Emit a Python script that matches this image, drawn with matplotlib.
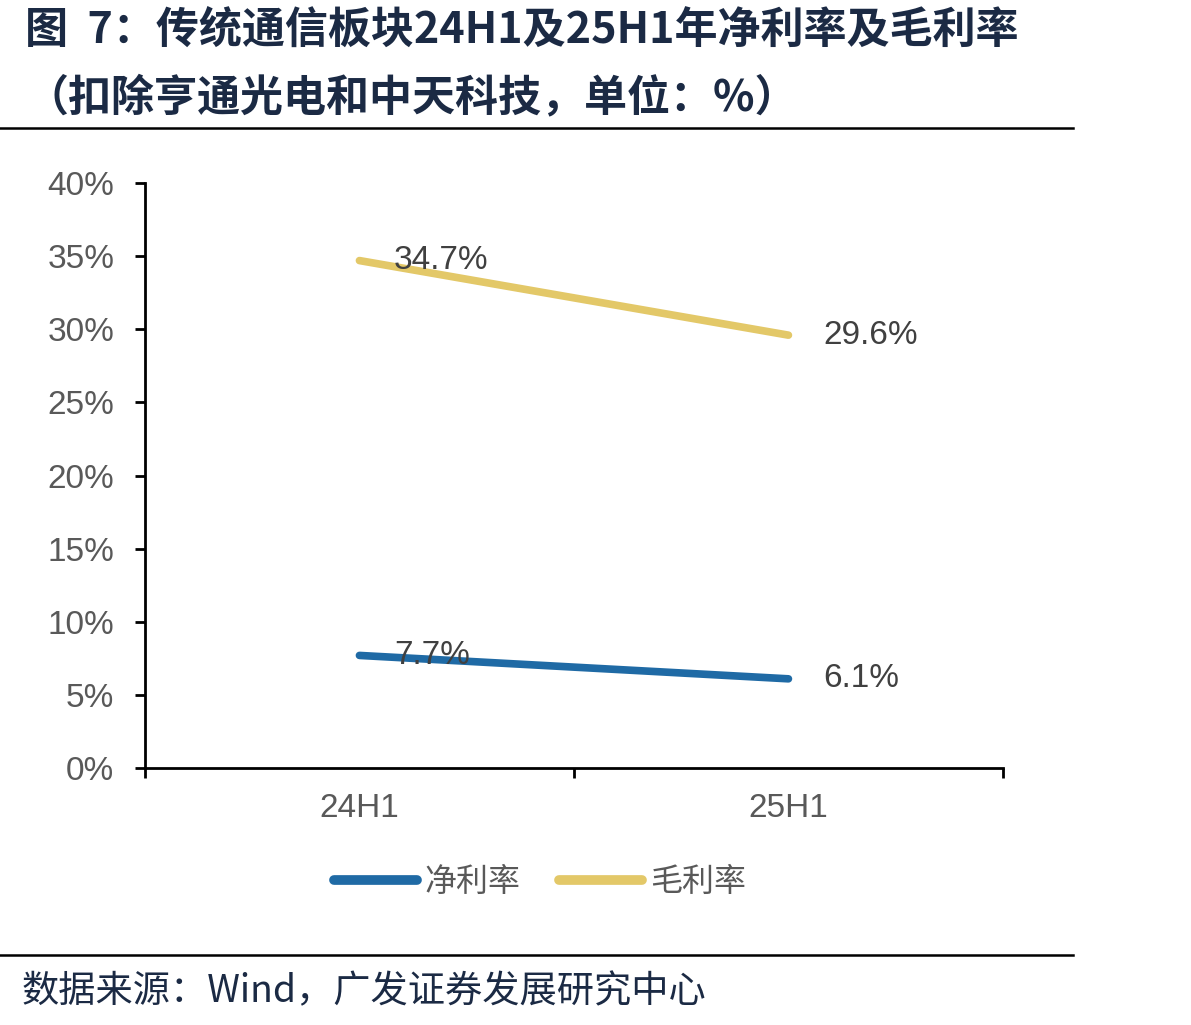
import matplotlib
matplotlib.use('Agg')
import matplotlib.pyplot as plt
from matplotlib.lines import Line2D

plt.rcParams['font.family'] = ['Liberation Sans', 'Noto Sans CJK SC', 'DejaVu Sans']

# Data
periods = ['24H1', '25H1']
net_margin = [7.7, 6.1]
gross_margin = [34.7, 29.6]
series_names = ['净利率', '毛利率']
y_ticks = [0, 5, 10, 15, 20, 25, 30, 35, 40]

# Colors
blue = '#1F6AA5'
gold = '#E3C868'
grey_text = '#595959'
label_text = '#404040'
navy = '#1B2A44'

fig = plt.figure(figsize=(11.91, 10.25), dpi=100)
fig.patch.set_facecolor('white')
ax = fig.add_axes([0.1217, 0.2507, 0.7204, 0.5707])

x = list(range(len(periods)))
ax.plot(x, net_margin, color=blue, linewidth=5.5, solid_capstyle='round')
ax.plot(x, gross_margin, color=gold, linewidth=5.5, solid_capstyle='round')

# Data labels
for xi, v in zip(x, net_margin):
    ax.annotate(f'{v:.1f}%', (xi, v), xytext=(25, 0), textcoords='offset points',
                ha='left', va='center', fontsize=24, color=label_text)
for xi, v in zip(x, gross_margin):
    ax.annotate(f'{v:.1f}%', (xi, v), xytext=(25, 0), textcoords='offset points',
                ha='left', va='center', fontsize=24, color=label_text)

ax.set_xlim(-0.5, len(periods) - 0.5)
ax.set_ylim(0, 40)
ax.set_yticks(y_ticks)
ax.set_yticklabels([f'{t}%' for t in y_ticks])
ax.set_xticks([i - 0.5 for i in range(len(periods) + 1)])
ax.set_xticklabels([])
ax.set_xticks(x, minor=True)
ax.set_xticklabels(periods, minor=True)
ax.tick_params(axis='x', which='minor', length=0, pad=18, labelsize=24, labelcolor=grey_text)
ax.tick_params(axis='x', which='major', length=7, width=2, direction='out', color='black')
ax.tick_params(axis='y', length=7, width=2, direction='out', pad=15, labelsize=24,
               labelcolor=grey_text, color='black')

for side in ['top', 'right']:
    ax.spines[side].set_visible(False)
for side in ['left', 'bottom']:
    ax.spines[side].set_linewidth(2)
    ax.spines[side].set_color('black')

# Legend
handles = [Line2D([], [], color=blue, linewidth=7, solid_capstyle='round'),
           Line2D([], [], color=gold, linewidth=7, solid_capstyle='round')]
leg = fig.legend(handles, series_names, loc='center', bbox_to_anchor=(540 / 1191, 1 - 882 / 1025),
                 ncol=2, frameon=False, handlelength=2.6, handletextpad=0.25,
                 columnspacing=1.2, prop={'family': ['Noto Sans CJK SC'], 'size': 23})
for t in leg.get_texts():
    t.set_color(grey_text)

# Title
fig.text(25 / 1191, 1 - 30 / 1025, '图  7：传统通信板块24H1及25H1年净利率及毛利率', ha='left', va='center',
         fontsize=31, fontweight='bold', color=navy, family=['Noto Sans CJK SC', 'DejaVu Sans'])
fig.text(25 / 1191, 1 - 97 / 1025, '（扣除亨通光电和中天科技，单位：%）', ha='left', va='center',
         fontsize=31, fontweight='bold', color=navy, family=['Noto Sans CJK SC', 'DejaVu Sans'])

# Rules
fig.add_artist(Line2D([0, 1073 / 1191], [1 - 128 / 1025] * 2, color='black', linewidth=1.8))
fig.add_artist(Line2D([0, 1073 / 1191], [1 - 955 / 1025] * 2, color='black', linewidth=1.8))

# Source
fig.text(22 / 1191, 1 - 992 / 1025, '数据来源：Wind，广发证券发展研究中心', ha='left', va='center',
         fontsize=26.8, color=navy, family=['Noto Sans CJK SC', 'DejaVu Sans'])

fig.savefig('out.png', dpi=100, facecolor='white')
